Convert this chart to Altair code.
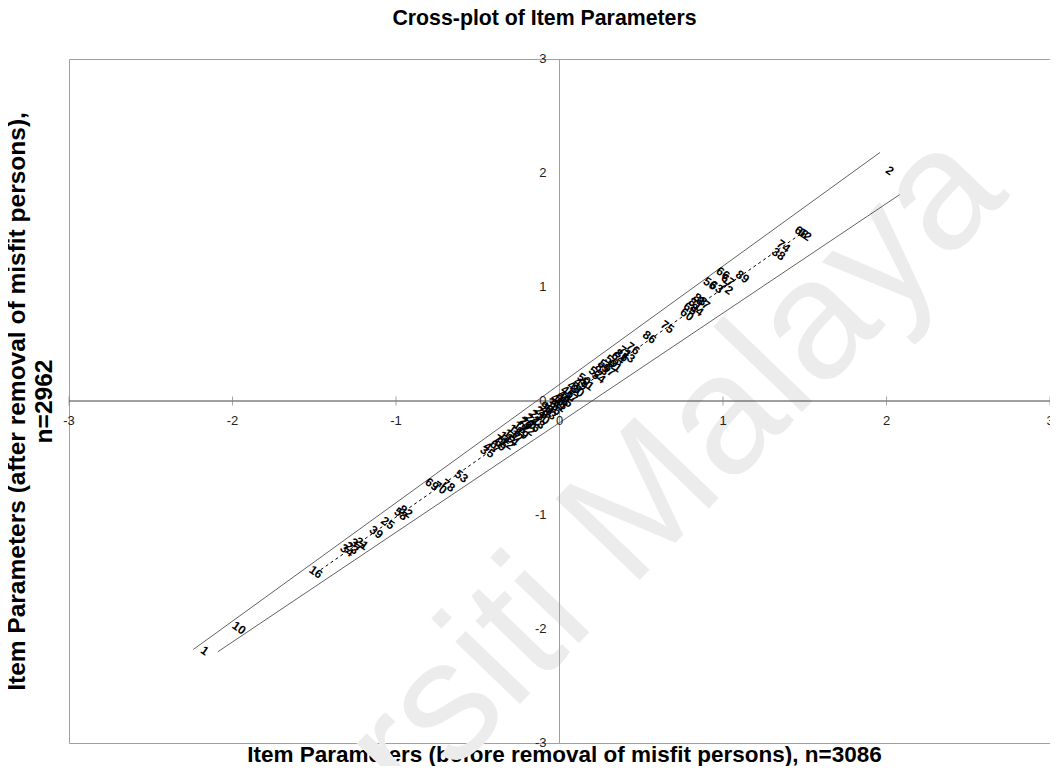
import altair as alt
import pandas as pd

# ---------------- data ----------------
item_labels = [
    "1", "10", "2", "16",
    "34", "23", "37", "21", "39", "25", "58", "82",
    "69", "70", "78", "53",
    "3", "4", "5", "6", "7", "77", "8", "9", "11", "12", "13", "14",
    "15", "17", "18", "79", "19", "20", "22", "24", "26", "27", "28",
    "29", "30", "90", "31", "33", "35", "36", "40", "41", "42", "43",
    "44", "45",
    "46", "47", "48", "80", "49", "50", "51", "52", "54", "83", "55",
    "57", "59", "61", "64", "85", "71", "73", "76",
    "86", "75",
    "60", "65", "84", "81", "88", "87",
    "56", "63", "66", "72", "67", "89",
    "38", "74", "68", "62",
]
before = [
    -2.17, -1.96, 2.02, -1.49,
    -1.30, -1.27, -1.24, -1.21, -1.12, -1.05, -0.97, -0.94,
    -0.78, -0.73, -0.68, -0.60,
    -0.46, -0.44, -0.42, -0.40, -0.39, -0.36, -0.37, -0.35, -0.33, -0.32, -0.30, -0.29,
    -0.27, -0.26, -0.24, -0.21, -0.23, -0.20, -0.19, -0.17, -0.16, -0.14, -0.13,
    -0.11, -0.10, -0.08, -0.07, -0.06, -0.04, -0.03, -0.01, 0.00, 0.02, 0.01,
    0.03, 0.04,
    0.05, 0.07, 0.09, 0.11, 0.13, 0.15, 0.17, 0.22, 0.24, 0.26, 0.28,
    0.30, 0.32, 0.34, 0.36, 0.38, 0.40, 0.42, 0.45,
    0.55, 0.66,
    0.78, 0.80, 0.84, 0.83, 0.86, 0.88,
    0.92, 0.96, 1.00, 1.02, 1.03, 1.12,
    1.34, 1.37, 1.48, 1.50,
]
after = [
    -2.19, -1.99, 2.02, -1.50,
    -1.31, -1.29, -1.26, -1.25, -1.15, -1.07, -0.99, -0.97,
    -0.73, -0.76, -0.74, -0.66,
    -0.43, -0.40, -0.46, -0.38, -0.42, -0.35, -0.36, -0.40, -0.32, -0.37, -0.30, -0.34,
    -0.26, -0.31, -0.23, -0.20, -0.28, -0.19, -0.25, -0.16, -0.22, -0.13, -0.19,
    -0.10, -0.15, -0.06, -0.08, -0.11, -0.03, -0.07, 0.01, -0.04, 0.02, -0.02,
    0.04, 0.00,
    0.08, 0.04, 0.12, 0.09, 0.15, 0.19, 0.15, 0.25, 0.21, 0.28, 0.31,
    0.27, 0.35, 0.31, 0.38, 0.40, 0.43, 0.39, 0.46,
    0.56, 0.65,
    0.76, 0.81, 0.80, 0.85, 0.89, 0.86,
    1.03, 1.00, 1.12, 0.99, 1.06, 1.09,
    1.29, 1.36, 1.48, 1.46,
]

band_names = ["upper", "upper", "lower", "lower"]
band_before = [-2.24, 1.96, -2.09, 2.08]
band_after = [-2.18, 2.18, -2.20, 1.81]

trend_before = [-1.49, 1.48]
trend_after = [-1.51, 1.47]

tick_values = [-3, -2, -1, 0, 1, 2, 3]
tick_labels = ["-3", "-2", "-1", "0", "1", "2", "3"]

watermark_text = ["Universiti Malaya"]
watermark_before = [2.76]
watermark_after = [1.80]

# ---------------- frames ----------------
items_df = pd.DataFrame({"label": item_labels, "before": before, "after": after})
band_df = pd.DataFrame({"band": band_names, "before": band_before, "after": band_after})
trend_df = pd.DataFrame({"before": trend_before, "after": trend_after})
xlab_df = pd.DataFrame({"before": tick_values, "after": [0] * len(tick_values), "lab": tick_labels})
ylab_df = pd.DataFrame({"before": [0] * len(tick_values), "after": tick_values, "lab": tick_labels})
origin_df = pd.DataFrame({"before": [0], "after": [0]})
wm_df = pd.DataFrame({"before": watermark_before, "after": watermark_after, "txt": watermark_text})

FONT = "Liberation Sans"
PLOT_W = 981
PLOT_H = 684

x_scale = alt.Scale(domain=[-3, 3], nice=False, zero=False)
y_scale = alt.Scale(domain=[-3, 3], nice=False, zero=False)

x_axis = alt.Axis(
    title="Item Parameters (before removal of misfit persons), n=3086",
    labels=False, ticks=False, domain=False, grid=False,
    titleFont=FONT, titleFontSize=22.5, titleFontWeight="bold", titleColor="black",
    titlePadding=0, titleX=495,
)
y_axis = alt.Axis(
    title=["Item Parameters  (after removal of misfit persons),", "n=2962"],
    labels=False, ticks=False, domain=False, grid=False,
    titleFont=FONT, titleFontSize=24.5, titleFontWeight="bold", titleColor="black",
    titlePadding=13, titleLineHeight=27,
)


def X():
    return alt.X("before:Q", scale=x_scale, axis=x_axis)


def Y():
    return alt.Y("after:Q", scale=y_scale, axis=y_axis)


watermark = alt.Chart(wm_df).mark_text(
    font=FONT, fontSize=170, color="#ececec", angle=314,
    align="right", baseline="alphabetic",
).encode(x=X(), y=Y(), text="txt:N")

vaxis = alt.Chart(origin_df).mark_rule(color="#a0a0a0", strokeWidth=1).encode(x=X())
haxis = alt.Chart(origin_df).mark_rule(color="#404040", strokeWidth=1).encode(y=Y())

xticks = alt.Chart(xlab_df).mark_tick(
    orient="vertical", size=9, thickness=1, color="#808080"
).encode(x=X(), y=Y())

bands = alt.Chart(band_df).mark_line(color="#505050", strokeWidth=0.9).encode(
    x=X(), y=Y(), detail="band:N"
)

trend = alt.Chart(trend_df).mark_line(
    color="black", strokeWidth=1, strokeDash=[3, 3]
).encode(x=X(), y=Y())

labels = alt.Chart(items_df).mark_text(
    font=FONT, fontSize=12, fontWeight="bold", color="black", angle=35
).encode(x=X(), y=Y(), text="label:N")

xlabels = alt.Chart(xlab_df).mark_text(
    font=FONT, fontSize=13, color="#222222", dy=20
).encode(x=X(), y=Y(), text="lab:N")

ylabels = alt.Chart(ylab_df).mark_text(
    font=FONT, fontSize=13, color="#222222", align="right", dx=-13
).encode(x=X(), y=Y(), text="lab:N")

chart = alt.layer(
    watermark, vaxis, haxis, xticks, bands, trend, labels, xlabels, ylabels
).properties(
    width=PLOT_W,
    height=PLOT_H,
    title=alt.TitleParams(
        "Cross-plot of Item Parameters",
        font=FONT, fontSize=21.3, fontWeight="bold", color="black",
        anchor="middle", dx=-15, offset=24,
    ),
    autosize=alt.AutoSizeParams(type="none"),
    padding={"left": 61, "top": 51, "right": 0, "bottom": 23},
).configure_view(
    stroke="#a0a0a0", strokeWidth=1
)

chart.save("out.html", embed_options={"renderer": "svg", "actions": False})
